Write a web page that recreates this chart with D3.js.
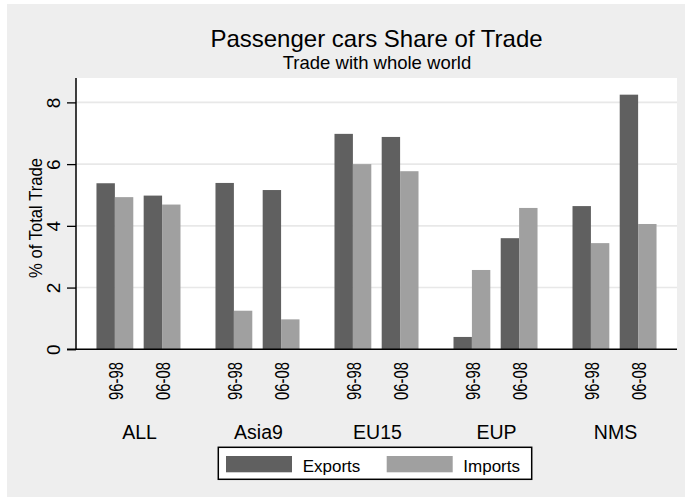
<!DOCTYPE html>
<html><head><meta charset="utf-8">
<script src="https://cdn.jsdelivr.net/npm/d3@7"></script>
<style>html,body{margin:0;padding:0;background:#fff}svg{display:block;font-family:"Liberation Sans",Arial,sans-serif}</style>
</head><body><svg id="c" width="687" height="500"></svg>
<script>
const regions = ["ALL","Asia9","EU15","EUP","NMS"];
const periods = ["96-98","06-08"];
const seriesNames = ["Exports","Imports"];
const exportsVals = [5.38,4.98, 5.39,5.16, 6.98,6.88, 0.40,3.60, 4.64,8.25];
const importsVals = [4.93,4.69, 1.25,0.97, 6.00,5.77, 2.57,4.58, 3.44,4.06];
const yTicks = [0,2,4,6,8];
const colors = ["#606060","#a0a0a0"];

const rows = [];
regions.forEach((r,i)=>periods.forEach((p,j)=>{
  rows.push({region:r, period:p, vals:[exportsVals[i*2+j], importsVals[i*2+j]]});
}));

const svg = d3.select("#c");
svg.append("rect").attr("x",7).attr("y",4).attr("width",678).attr("height",493).attr("fill","#eeeeee");

const L=76, R=677, T=78, B=349.3;
svg.append("rect").attr("x",L).attr("y",T).attr("width",R-L).attr("height",B-T).attr("fill","#fff");

const y = d3.scaleLinear().domain([0,8.79]).range([B,T]);
const xg = d3.scaleBand().domain(regions).range([L,R]).paddingInner(0.294).paddingOuter(0.172);
const xp = d3.scaleBand().domain(periods).range([0,xg.bandwidth()]).paddingInner(0.22).paddingOuter(0);
const xs = d3.scaleBand().domain(seriesNames).range([0,xp.bandwidth()]);

// gridlines
svg.append("g").selectAll("line").data(yTicks.filter(d=>d>0)).join("line")
  .attr("x1",L).attr("x2",R).attr("y1",d=>y(d)).attr("y2",d=>y(d))
  .attr("stroke","#e8e8e8").attr("stroke-width",1.6);

// bars
const g = svg.append("g").selectAll("g").data(rows).join("g")
  .attr("transform",d=>`translate(${xg(d.region)+xp(d.period)},0)`);
g.selectAll("rect").data(d=>d.vals.map((v,k)=>({v,k}))).join("rect")
  .attr("x",d=>xs(seriesNames[d.k])).attr("width",xs.bandwidth())
  .attr("y",d=>y(d.v)).attr("height",d=>B-y(d.v))
  .attr("fill",d=>colors[d.k]);

// y axis
const ya = svg.append("g").attr("transform",`translate(${L},0)`)
  .call(d3.axisLeft(y).tickValues(yTicks).tickSize(9).tickFormat(d3.format("d")));
ya.select(".domain").remove();
ya.selectAll(".tick line").attr("stroke","#000").attr("stroke-width",1.3);
ya.selectAll(".tick text").remove();
ya.selectAll(".tick").append("text")
  .attr("transform","translate(-16,0) rotate(-90)")
  .attr("text-anchor","middle").attr("fill","#000")
  .style("font-size","19px").text(d=>d);
svg.append("line").attr("x1",L).attr("x2",L).attr("y1",T).attr("y2",B).attr("stroke","#000").attr("stroke-width",1.5);
svg.append("line").attr("x1",67).attr("x2",R).attr("y1",B).attr("y2",B).attr("stroke","#000").attr("stroke-width",1.5);

svg.append("text").attr("transform","translate(42,218) rotate(-90)")
  .attr("text-anchor","middle").style("font-size","19px")
  .attr("textLength",120).attr("lengthAdjust","spacingAndGlyphs").text("% of Total Trade");

// x tick labels (periods)
svg.append("g").selectAll("text").data(rows).join("text")
  .attr("transform",d=>`translate(${xg(d.region)+xp(d.period)+xp.bandwidth()/2+1},362) rotate(-90)`)
  .attr("text-anchor","end").attr("dy","0.35em")
  .style("font-size","20px").attr("textLength",38).attr("lengthAdjust","spacingAndGlyphs")
  .text(d=>d.period);

// group labels
svg.append("g").selectAll("text").data(regions).join("text")
  .attr("x",d=>xg(d)+xg.bandwidth()/2+1).attr("y",439)
  .attr("text-anchor","middle").style("font-size","19.5px").text(d=>d);

// titles
svg.append("text").attr("x",376.5).attr("y",46.7).attr("text-anchor","middle")
  .style("font-size","24px").text("Passenger cars Share of Trade");
svg.append("text").attr("x",377).attr("y",69.3).attr("text-anchor","middle")
  .style("font-size","18.5px").text("Trade with whole world");

// legend
const lg = svg.append("g");
lg.append("rect").attr("x",218.3).attr("y",447.3).attr("width",313.4).attr("height",32)
  .attr("fill","#fff").attr("stroke","#000").attr("stroke-width",1.5);
const legX = [[226,302.7],[386.7,463.3]];
seriesNames.forEach((s,k)=>{
  lg.append("rect").attr("x",legX[k][0]).attr("y",456).attr("width",66).attr("height",16.3).attr("fill",colors[k]);
  lg.append("text").attr("x",legX[k][1]).attr("y",471.7).style("font-size","17px").text(s);
});
</script></body></html>
